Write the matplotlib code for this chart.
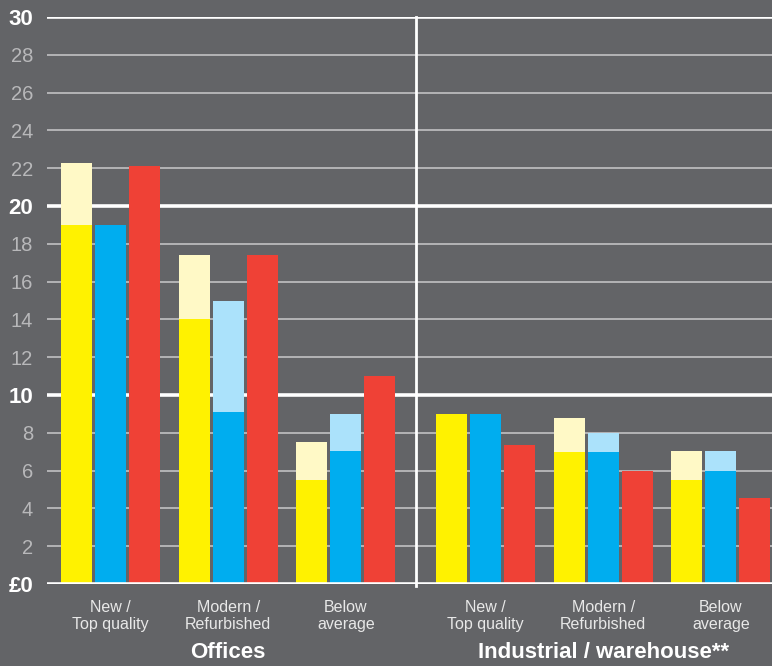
import matplotlib.pyplot as plt
import numpy as np

plt.rcParams['font.family'] = ['Liberation Sans', 'DejaVu Sans']

# data (GBP per sq ft)
categories = ["New /\nTop quality", "Modern /\nRefurbished", "Below\naverage"]
sections = ["Offices", "Industrial / warehouse**"]

off_yellow_low = [19.0, 14.0, 5.5]
off_yellow_high = [22.3, 17.4, 7.5]
off_blue_low = [19.0, 9.1, 7.05]
off_blue_high = [19.0, 15.0, 9.0]
off_red = [22.1, 17.4, 11.0]

ind_yellow_low = [9.0, 7.0, 5.5]
ind_yellow_high = [9.0, 8.8, 7.05]
ind_blue_low = [9.0, 7.0, 6.0]
ind_blue_high = [9.0, 8.0, 7.05]
ind_red = [7.35, 6.0, 4.55]

yticks = [0, 2, 4, 6, 8, 10, 12, 14, 16, 18, 20, 22, 24, 26, 28, 30]
ytick_labels = ["£0", "2", "4", "6", "8", "10", "12", "14", "16", "18", "20",
                "22", "24", "26", "28", "30"]

bg = "#636467"
yellow, yellow_lt = "#fff200", "#fff9c6"
blue, blue_lt = "#00adef", "#abe2fb"
red = "#ef4136"

fig = plt.figure(figsize=(7.72, 6.66), dpi=100, facecolor=bg)
ax = fig.add_axes([47 / 772, 82 / 666, 725 / 772, 567 / 666])
ax.set_facecolor(bg)

w = 0.91
step = 3.46
starts = [1.87, 12.9]
data = [
    (off_yellow_low, off_yellow_high, off_blue_low, off_blue_high, off_red),
    (ind_yellow_low, ind_yellow_high, ind_blue_low, ind_blue_high, ind_red),
]

for s, (yl, yh, bl, bh, r) in enumerate(data):
    centers = starts[s] + np.arange(len(categories)) * step
    ax.bar(centers - 1, yh, w, color=yellow_lt, zorder=3)
    ax.bar(centers - 1, yl, w, color=yellow, zorder=3)
    ax.bar(centers, bh, w, color=blue_lt, zorder=3)
    ax.bar(centers, bl, w, color=blue, zorder=3)
    ax.bar(centers + 1, r, w, color=red, zorder=3)
    for c, lab in zip(centers, categories):
        ax.text(c, -0.85, lab, ha="center", va="top", color="#e8e8e8",
                fontsize=11.5, linespacing=1.12)
    mid = centers.mean()
    ax.text(mid, -3.6, sections[s], ha="center", va="center", color="white",
            fontsize=16, fontweight="heavy")

for v in yticks:
    if v % 10 == 0:
        ax.axhline(v, color="white", lw=2.6, zorder=4 if v == 0 else 2)
    else:
        ax.axhline(v, color="#b4b4b6", lw=1.4, zorder=2)

sep = (starts[0] + 2 * step + starts[1]) / 2
ax.axvline(sep, ymin=-0.004, ymax=1, color="white", lw=2, zorder=5, clip_on=False)

ax.set_xlim(0, 725 / 34)
ax.set_ylim(0, 30)
ax.set_xticks([])
ax.set_yticks(yticks)
ax.set_yticklabels(ytick_labels)
ax.tick_params(axis="y", length=0, pad=10, labelsize=14.5)
for v, t in zip(yticks, ax.get_yticklabels()):
    if v % 10 == 0:
        t.set_fontweight("bold")
        t.set_fontsize(16)
        t.set_color("white")
    else:
        t.set_color("#b8b8ba")
for sp in ax.spines.values():
    sp.set_visible(False)

fig.savefig("out.png", dpi=100, facecolor=bg)
